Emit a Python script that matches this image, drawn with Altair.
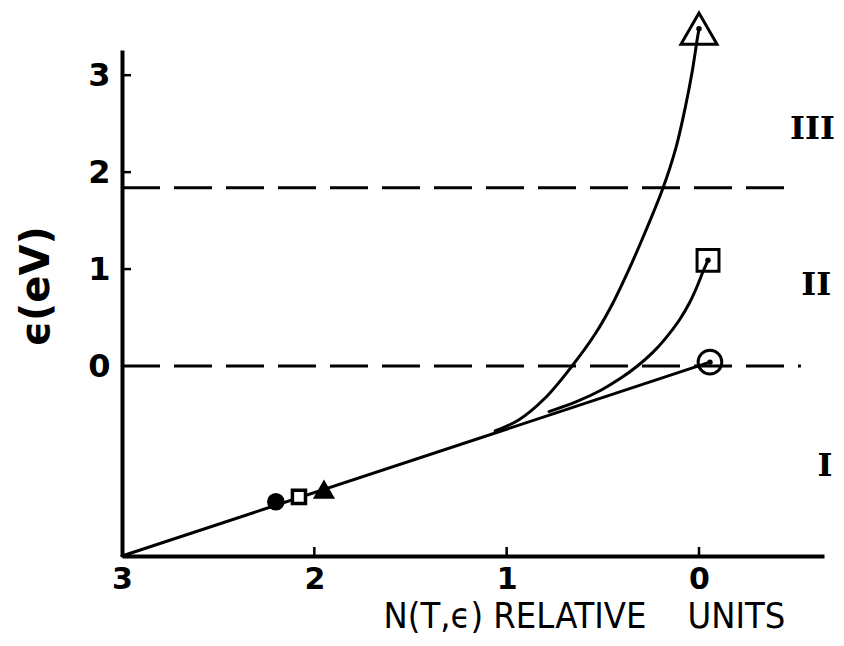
import altair as alt
import pandas as pd

# ---- data ----
# straight line ending at the circle
line_N = [3.0, -0.057]
line_E = [-1.96, 0.04]

# curve ending at the triangle
tri_N = [1.06, 0.94, 0.80, 0.66, 0.54, 0.45, 0.37, 0.28, 0.19, 0.12, 0.07, 0.035, 0.01, 0.0]
tri_E = [-0.67, -0.56, -0.33, 0.0, 0.33, 0.64, 0.97, 1.38, 1.82, 2.25, 2.68, 3.04, 3.36, 3.48]

# curve ending at the square
sq_N = [0.78, 0.64, 0.51, 0.41, 0.32, 0.24, 0.176, 0.10, 0.047, 0.01, -0.02, -0.047]
sq_E = [-0.47, -0.37, -0.25, -0.13, 0.0, 0.14, 0.28, 0.48, 0.66, 0.82, 0.97, 1.09]

# end markers
end_shape = ["circle", "square", "triangle-up"]
end_N = [-0.057, -0.047, 0.0]
end_E = [0.04, 1.09, 3.48]
end_size = [560, 480, 1300]

# small markers on the line
small_shape = ["circle", "square", "triangle-up"]
small_N = [2.20, 2.08, 1.95]
small_E = [-1.40, -1.35, -1.28]
small_size = [200, 170, 260]
small_fill = ["black", "white", "black"]

# dashed region boundaries
dash_E = [0.0, 1.84]
dash_end = [-0.53, -0.51]

# region labels
region_text = ["III", "II", "I"]
region_E = [2.44, 0.835, -1.03]
region_N = [-0.59, -0.61, -0.655]

x_ticks = [3, 2, 1, 0]
y_ticks = [0, 1, 2, 3]

W, H = 702, 506

rows = []
for name, ns, es in [("line", line_N, line_E), ("tri", tri_N, tri_E), ("sq", sq_N, sq_E)]:
    for i, (n, e) in enumerate(zip(ns, es)):
        rows.append({"series": name, "N": n, "E": e, "i": i})
curves = pd.DataFrame(rows)

ends = pd.DataFrame({"shape": end_shape, "N": end_N, "E": end_E, "size": end_size})
smalls = pd.DataFrame({"shape": small_shape, "N": small_N, "E": small_E,
                       "size": small_size, "fill": small_fill})
dashes = pd.DataFrame({"E": dash_E, "N0": [3.0, 3.0], "N1": dash_end})
regions = pd.DataFrame({"t": region_text, "E": region_E, "N": region_N})
xt = pd.DataFrame({"v": x_ticks[1:]})
yt = pd.DataFrame({"v": y_ticks[1:]})

xs = alt.Scale(domain=[-0.65, 3.0], reverse=True, nice=False, zero=False)
ys = alt.Scale(domain=[-1.96, 3.26], nice=False, zero=False)

NB = "\u00a0"
xaxis = alt.Axis(values=x_ticks, format="d", ticks=False, grid=False,
                 domainColor="black", domainWidth=4,
                 labelFont="DejaVu Sans", labelFontSize=30, labelFontWeight="bold",
                 labelColor="black", labelPadding=8, labelFlush=False,
                 title="N(T,ϵ) RELATIVE" + NB * 4 + "UNITS", titleFont="DejaVu Sans Condensed",
                 titleFontSize=36, titleFontWeight="normal", titleColor="black",
                 titleX=462, titleY=71, titleAlign="center", titleBaseline="alphabetic")
yaxis = alt.Axis(values=y_ticks, format="d", ticks=False, grid=False,
                 domainColor="black", domainWidth=4,
                 labelFont="DejaVu Sans", labelFontSize=32, labelFontWeight="bold",
                 labelColor="black", labelPadding=12, labelFlush=False,
                 title="ϵ(eV)", titleFont="DejaVu Sans", titleFontSize=40,
                 titleFontWeight="bold", titleColor="black", titleAngle=270,
                 titleX=-86, titleY=236, titleAlign="center", titleBaseline="middle")

base_lines = alt.Chart(curves).mark_line(color="black", strokeWidth=3, strokeCap="round",
                                         interpolate="catmull-rom").encode(
    x=alt.X("N:Q", scale=xs, axis=xaxis),
    y=alt.Y("E:Q", scale=ys, axis=yaxis),
    detail="series:N",
    order="i:Q",
)

dash_layer = alt.Chart(dashes).mark_rule(color="black", strokeWidth=3, strokeDash=[38, 14]).encode(
    x=alt.X("N0:Q", scale=xs), x2="N1:Q", y=alt.Y("E:Q", scale=ys))

xtick_layer = alt.Chart(xt).mark_rule(color="black", strokeWidth=2.5).encode(
    x=alt.X("v:Q", scale=xs), y=alt.value(H), y2=alt.value(H - 9))
ytick_layer = alt.Chart(yt).mark_rule(color="black", strokeWidth=2.5).encode(
    y=alt.Y("v:Q", scale=ys), x=alt.value(0), x2=alt.value(9))

end_layer = alt.Chart(ends).mark_point(filled=False, color="black", strokeWidth=3, opacity=1).encode(
    x=alt.X("N:Q", scale=xs), y=alt.Y("E:Q", scale=ys),
    shape=alt.Shape("shape:N", scale=None),
    size=alt.Size("size:Q", scale=None))
end_dots = alt.Chart(ends).mark_point(filled=True, color="black", size=30, opacity=1).encode(
    x=alt.X("N:Q", scale=xs), y=alt.Y("E:Q", scale=ys))

small_layer = alt.Chart(smalls).mark_point(color="black", strokeWidth=3.5, opacity=1).encode(
    x=alt.X("N:Q", scale=xs), y=alt.Y("E:Q", scale=ys),
    shape=alt.Shape("shape:N", scale=None),
    size=alt.Size("size:Q", scale=None),
    fill=alt.Fill("fill:N", scale=None))

region_layer = alt.Chart(regions).mark_text(font="DejaVu Serif", fontSize=32, fontWeight="bold",
                                            color="black", align="center", baseline="middle").encode(
    x=alt.X("N:Q", scale=xs), y=alt.Y("E:Q", scale=ys), text="t:N")

chart = alt.layer(dash_layer, base_lines, xtick_layer, ytick_layer, end_layer, end_dots,
                  small_layer, region_layer).properties(
    width=W, height=H, background="white",
    padding={"left": 114, "top": 42, "right": 12, "bottom": 80},
    autosize=alt.AutoSizeParams(type="none"),
).configure_view(strokeWidth=0, stroke="transparent")

chart.save("out.html", embed_options={"renderer": "svg", "actions": False})
